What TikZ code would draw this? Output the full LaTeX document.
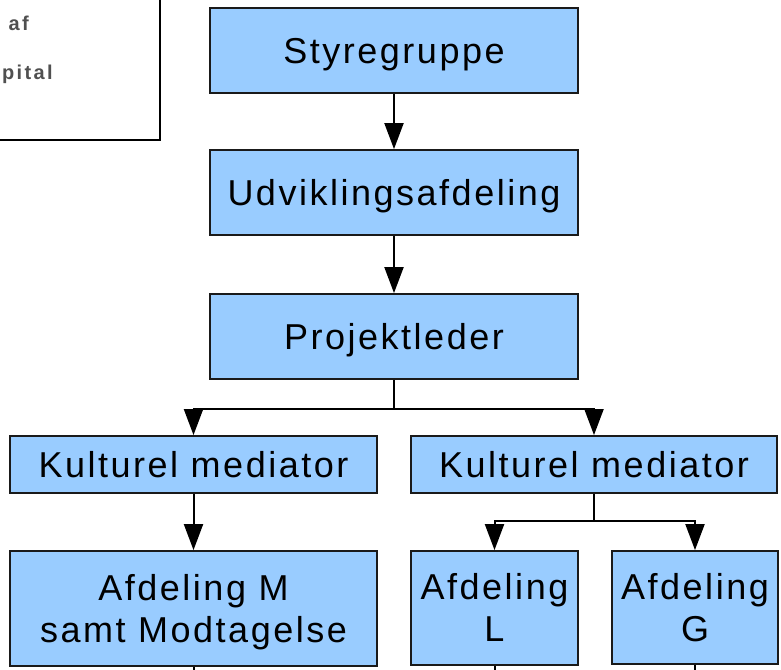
\documentclass[tikz,border=0pt]{standalone}
\usepackage{fontspec}
\setmainfont{Liberation Sans}
\newfontfamily\boxfont[LetterSpace=7]{Liberation Sans}
\newfontfamily\notefont[LetterSpace=12]{Liberation Sans}
\usetikzlibrary{arrows.meta,calc}
\definecolor{boxblue}{HTML}{99CCFF}
\definecolor{notegray}{HTML}{505050}
\definecolor{edge}{HTML}{1A1A1A}
\tikzset{
  orgbox/.style={draw=edge, line width=1.8pt, fill=boxblue, inner sep=0pt, align=center,
    font=\boxfont\fontsize{36}{42}\selectfont, text height=25.8pt, text depth=0pt},
  twoline/.style={text height=67.8pt, text depth=0pt},
  arr/.style={line width=2pt, -{Triangle[width=19pt,length=26pt]}},
  conn/.style={line width=2pt},
  note/.style={font=\notefont\fontsize{20}{22}\selectfont\bfseries, text=notegray, inner sep=0pt}
}
\begin{document}
\begin{tikzpicture}[x=1pt,y=-1pt]
\useasboundingbox (0,0) rectangle (781,669);
% partial note box top-left
\coordinate (nt) at (160,0);
\coordinate (nc) at (160,140);
\coordinate (nl) at (0,140);
\draw[line width=1.8pt] (nt) -- (nc) -- (nl);
\node[note, anchor=east] (na) at (29,23) {af};
\node[note, anchor=east] (nb) at (53,74) {pital};
% boxes
\node[orgbox, minimum width=368pt, minimum height=85pt] (sty) at (394,50.5) {Styregruppe};
\node[orgbox, minimum width=368pt, minimum height=85pt] (udv) at (394,192.5) {Udviklingsafdeling};
\node[orgbox, minimum width=368pt, minimum height=85pt] (proj) at (394,336.5) {Projektleder};
\node[orgbox, minimum width=367pt, minimum height=57pt] (kml) at (193.5,464.5) {Kulturel mediator};
\node[orgbox, minimum width=366pt, minimum height=57pt] (kmr) at (594,464.5) {Kulturel mediator};
\node[orgbox, twoline, minimum width=367pt, minimum height=115pt] (am) at (193.5,608.5) {Afdeling M\\samt Modtagelse};
\node[orgbox, twoline, minimum width=167pt, minimum height=114pt] (al) at (494.5,608) {Afdeling\\L};
\node[orgbox, twoline, minimum width=166pt, minimum height=113pt] (ag) at (695,607.5) {Afdeling\\G};
% connectors
\draw[arr] (sty) -- (udv);
\draw[arr] (udv) -- (proj);
\coordinate (j1) at ($(proj.south)+(0,29)$);
\draw[conn] (proj.south) -- (j1);
\draw[arr] (j1) -| (kml.north);
\draw[arr] (j1) -| (kmr.north);
\draw[arr] (kml) -- (am);
\coordinate (j2) at ($(kmr.south)+(0,27)$);
\draw[conn] (kmr.south) -- (j2);
\draw[arr] (j2) -| (al.north);
\draw[arr] (j2) -| (ag.north);
% stubs leaving the picture at the bottom
\coordinate (sm) at ($(am.south)+(0,3)$);
\coordinate (sl) at ($(al.south)+(0,4)$);
\coordinate (sg) at ($(ag.south)+(0,6)$);
\draw[conn] (am.south) -- (sm);
\draw[conn] (al.south) -- (sl);
\draw[conn] (ag.south) -- (sg);
\end{tikzpicture}
\end{document}
